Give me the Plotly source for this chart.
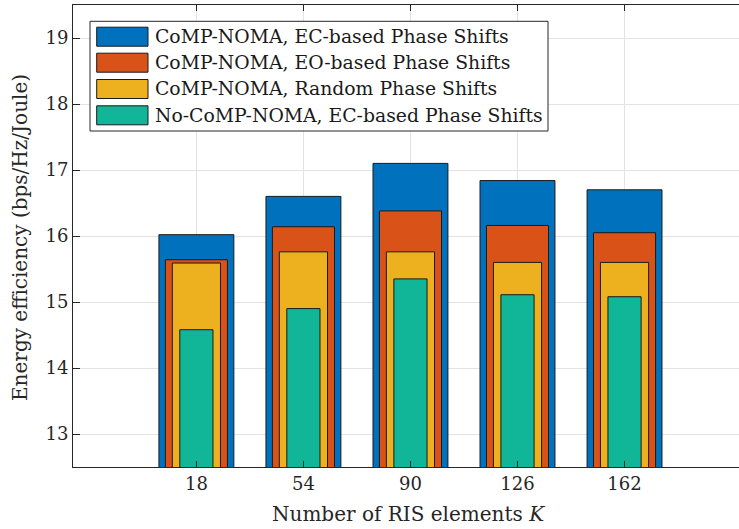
import plotly.graph_objects as go

# ---- data ----
K = [18, 54, 90, 126, 162]
ec_based = [16.02, 16.60, 17.10, 16.84, 16.70]
eo_based = [15.64, 16.14, 16.38, 16.16, 16.05]
random_ps = [15.59, 15.76, 15.76, 15.60, 15.60]
no_comp = [14.58, 14.90, 15.35, 15.11, 15.08]
series_names = [
    "CoMP-NOMA, EC-based Phase Shifts",
    "CoMP-NOMA, EO-based Phase Shifts",
    "CoMP-NOMA, Random Phase Shifts",
    "No-CoMP-NOMA, EC-based Phase Shifts",
]
y_ticks = [13, 14, 15, 16, 17, 18, 19]

# ---- style ----
colors = ["#0072BD", "#D95319", "#EDB120", "#11B597"]
rel_widths = [0.70, 0.58, 0.45, 0.31]
step = 36
FONT = "DejaVu Serif"
W, H = 739, 529
ML, MR, MT, MB = 73, 0, 5, 62

def xp(px):
    return (px - ML) / (W - ML - MR)

def yp(py):
    return (H - MB - py) / (H - MT - MB)

fig = go.Figure()
for vals, name, col, rw in zip([ec_based, eo_based, random_ps, no_comp], series_names, colors, rel_widths):
    fig.add_trace(go.Bar(
        x=K, y=vals, name=name, width=rw * step,
        marker=dict(color=col, line=dict(color="#1a1a1a", width=1)),
        showlegend=False,
    ))

fig.update_layout(
    width=W, height=H, barmode="overlay",
    margin=dict(l=ML, r=MR, t=MT, b=MB),
    plot_bgcolor="white", paper_bgcolor="white",
    font=dict(family=FONT, size=18, color="#262626"),
)
fig.update_xaxes(
    range=[-23.5, 200.5], tickvals=K, ticktext=[str(k) for k in K],
    showgrid=True, gridcolor="#e3e3e3", gridwidth=1,
    showline=True, linecolor="#262626", linewidth=1, mirror="ticks",
    ticks="inside", ticklen=6, tickcolor="#262626", zeroline=False,
    tickfont=dict(size=18),
)
fig.update_yaxes(
    range=[12.5, 19.5], tickvals=y_ticks,
    showgrid=True, gridcolor="#e3e3e3", gridwidth=1,
    showline=True, linecolor="#262626", linewidth=1,
    ticks="inside", ticklen=7, tickcolor="#262626", zeroline=False,
    tickfont=dict(size=18),
)

# axis titles
fig.add_annotation(text="Number of RIS elements <i>K</i>", xref="paper", yref="paper",
                   x=xp(408), y=yp(514), xanchor="center", yanchor="middle",
                   showarrow=False, font=dict(size=20, family=FONT, color="#262626"))
fig.add_annotation(text="Energy efficiency (bps/Hz/Joule)", xref="paper", yref="paper",
                   x=xp(20), y=yp(238), xanchor="center", yanchor="middle", textangle=-90,
                   showarrow=False, font=dict(size=20, family=FONT, color="#262626"))

# legend box
fig.add_shape(type="rect", xref="paper", yref="paper",
              x0=xp(90), x1=xp(548), y0=yp(131), y1=yp(21.3),
              fillcolor="white", line=dict(color="#262626", width=1), layer="above")
row_centers = [36.7, 62.7, 89.0, 115.3]
for name, col, cy in zip(series_names, colors, row_centers):
    fig.add_shape(type="rect", xref="paper", yref="paper",
                  x0=xp(96.7), x1=xp(148), y0=yp(cy + 9.5), y1=yp(cy - 9.5),
                  fillcolor=col, line=dict(color="#1a1a1a", width=1), layer="above")
    fig.add_annotation(text=name, xref="paper", yref="paper", x=xp(153), y=yp(cy),
                       xanchor="left", yanchor="middle", showarrow=False,
                       font=dict(size=18.8, family=FONT, color="#1a1a1a"))

fig.write_html("out.html", config={"displayModeBar": False},
               post_script="document.body.style.margin='0px';")
